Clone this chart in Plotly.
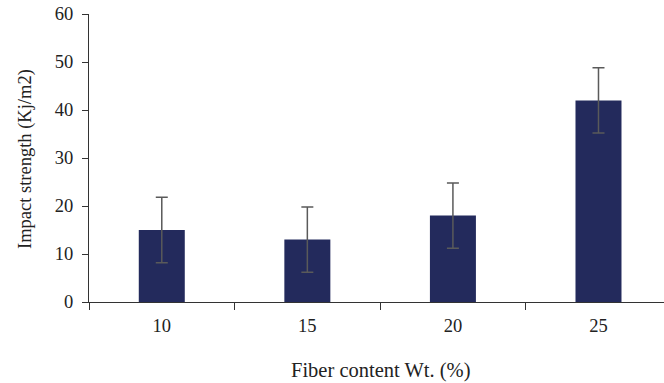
import plotly.graph_objects as go

categories = ["10", "15", "20", "25"]
impact = [15.0, 13.0, 18.0, 42.0]
err = [6.8, 6.8, 6.8, 6.8]
y_ticks = [0, 10, 20, 30, 40, 50, 60]

fig = go.Figure()
fig.add_trace(go.Bar(
    x=categories, y=impact,
    marker=dict(color="#232a5c", line=dict(width=0)),
    width=0.316,
    error_y=dict(type="data", array=err, visible=True, color="#5a5a5a", thickness=1.5, width=6),
))

font_family = "Liberation Serif"
tick_font = dict(family=font_family, size=18.5, color="#222")
fig.update_layout(
    width=664, height=383,
    margin=dict(l=89, r=0, t=14, b=81),
    paper_bgcolor="white", plot_bgcolor="white",
    showlegend=False,
    font=dict(family=font_family, size=18, color="#222"),
    xaxis=dict(
        type="category", range=[-0.5, 3.45],
        showline=True, linecolor="#333", linewidth=1,
        ticks="outside", ticklen=7, tickcolor="#333", tickson="boundaries",
        ticklabelstandoff=7,
        showgrid=False, zeroline=False,
        tickfont=tick_font,
    ),
    yaxis=dict(
        range=[0, 60], tickvals=y_ticks,
        showline=True, linecolor="#333", linewidth=1,
        ticks="outside", ticklen=6, tickcolor="#333",
        ticklabelstandoff=5,
        showgrid=False, zeroline=False,
        tickfont=tick_font,
    ),
    annotations=[
        dict(
            text="Fiber content Wt. (%)", xref="x", yref="paper", x=1.5, y=0,
            yshift=-68, xshift=1, showarrow=False, yanchor="middle", xanchor="center",
            font=dict(family=font_family, size=20.5, color="#222"),
        ),
        dict(
            text="Impact strength (Kj/m2)", xref="paper", yref="paper", x=0, y=0.5,
            xshift=-64, yshift=-1, showarrow=False, textangle=-90,
            xanchor="center", yanchor="middle",
            font=dict(family=font_family, size=18.5, color="#222"),
        ),
    ],
)

fig.write_html("out.html")
